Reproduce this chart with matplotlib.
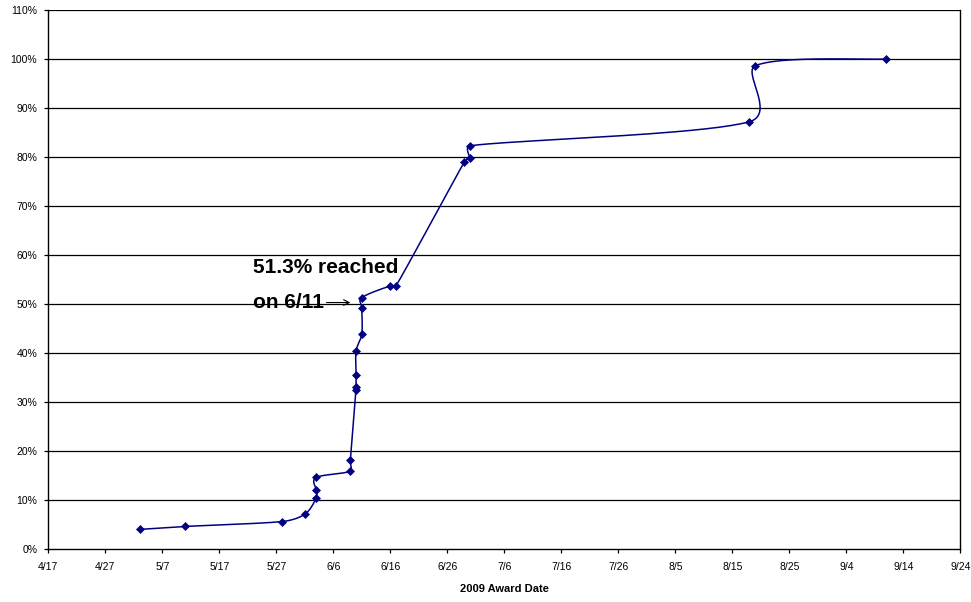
import numpy as np
import matplotlib
matplotlib.use("Agg")
import matplotlib.pyplot as plt
from datetime import date

plt.rcParams['font.family'] = ['Liberation Sans', 'DejaVu Sans']

# ---- data ----
award_dates = ["5/3", "5/11", "5/28", "6/1", "6/3", "6/3", "6/3", "6/9", "6/9",
               "6/10", "6/10", "6/10", "6/10", "6/11", "6/11", "6/11",
               "6/16", "6/17", "6/29", "6/30", "6/30", "8/18", "8/19", "9/11"]
cum_pct = [4.0, 4.6, 5.6, 7.1, 10.4, 12.0, 14.6, 15.9, 18.2,
           32.5, 33.1, 35.5, 40.4, 43.9, 49.1, 51.3,
           53.7, 53.7, 79.0, 79.8, 82.3, 87.2, 98.6, 100.0]
tick_dates = ["4/17", "4/27", "5/7", "5/17", "5/27", "6/6", "6/16", "6/26", "7/6",
              "7/16", "7/26", "8/5", "8/15", "8/25", "9/4", "9/14", "9/24"]
y_ticks = list(range(0, 111, 10))
annot_line1 = "51.3% reached"
annot_line2 = "on 6/11"
x_label = "2009 Award Date"

BASE = date(2009, 4, 17)


def to_day(s):
    m, d = map(int, s.split("/"))
    return (date(2009, m, d) - BASE).days


x = np.array([to_day(s) for s in award_dates], dtype=float)
y = np.array(cum_pct, dtype=float)
xt = [to_day(s) for s in tick_dates]


def smooth_display(P, n=40):
    # Excel-like smoothed line: Catmull-Rom Bezier with tension 1/6,
    # reduced when control arms exceed half the segment length
    out = [P[0]]
    N = len(P)
    for i in range(N - 1):
        p0 = P[i - 1] if i > 0 else P[i]
        p1 = P[i]
        p2 = P[i + 1]
        p3 = P[i + 2] if i + 2 < N else P[i + 1]
        d12 = np.linalg.norm(p2 - p1)
        d02 = np.linalg.norm(p2 - p0)
        d13 = np.linalg.norm(p3 - p1)
        f0 = f3 = 1.0 / 6.0
        b1 = d02 / 6.0 < d12 / 2.0
        b2 = d13 / 6.0 < d12 / 2.0
        if not (b1 and b2):
            g0 = d12 / (2 * d02) if (not b1 and d02 > 0) else 1.0 / 6.0
            g3 = d12 / (2 * d13) if (not b2 and d13 > 0) else 1.0 / 6.0
            f0 = f3 = min(g0, g3)
        c1 = p1 + (p2 - p0) * f0
        c2 = p2 - (p3 - p1) * f3
        t = np.linspace(0, 1, n)[1:, None]
        b = ((1 - t) ** 3) * p1 + 3 * ((1 - t) ** 2) * t * c1 + 3 * (1 - t) * t ** 2 * c2 + t ** 3 * p2
        out.extend(b)
    return np.array(out)


fig = plt.figure(figsize=(9.71, 6.02), dpi=100)
ax = fig.add_axes([48.3 / 971, 1 - 549 / 602, (960.3 - 48.3) / 971, (549 - 10) / 602])
ax.set_xlim(xt[0], xt[-1])
ax.set_ylim(0, 110)

navy = "#000080"
for yy in y_ticks[1:]:
    ax.axhline(yy, color="black", lw=0.9, zorder=1)

disp = ax.transData.transform(np.column_stack([x, y]))
curve = ax.transData.inverted().transform(smooth_display(disp))
ax.plot(curve[:, 0], curve[:, 1], color=navy, lw=1.1, zorder=3)
ax.plot(x, y, linestyle="none", marker="D", ms=4.0, mew=0.5,
        color=navy, mfc=navy, mec=navy, zorder=4)

ax.set_xticks(xt)
ax.set_xticklabels(tick_dates)
ax.set_yticks(y_ticks)
ax.set_yticklabels([f"{v}%" for v in y_ticks])
ax.tick_params(axis="both", direction="out", length=3, width=0.9, labelsize=7.5,
               colors="black")
ax.tick_params(axis="x", pad=6)
ax.tick_params(axis="y", pad=5)
for side in ["left", "right", "bottom"]:
    ax.spines[side].set_linewidth(1.0)
    ax.spines[side].set_color("black")
ax.spines["top"].set_visible(False)

ax.set_xlabel(x_label, fontsize=8, fontweight="bold", labelpad=9)

d611 = to_day("6/11")
ax.text(35.9, 57.4, annot_line1, fontsize=15, fontweight="bold",
        ha="left", va="center", zorder=5)
ax.text(35.9, 50.3, annot_line2, fontsize=15, fontweight="bold",
        ha="left", va="center", zorder=5)
ax.annotate("", xy=(d611 - 2.0, 50.3), xytext=(d611 - 6.2, 50.3),
            arrowprops=dict(arrowstyle="->", lw=0.8, color="black",
                            shrinkA=0, shrinkB=0), zorder=5)

fig.savefig("out.png", dpi=100, facecolor="white")
